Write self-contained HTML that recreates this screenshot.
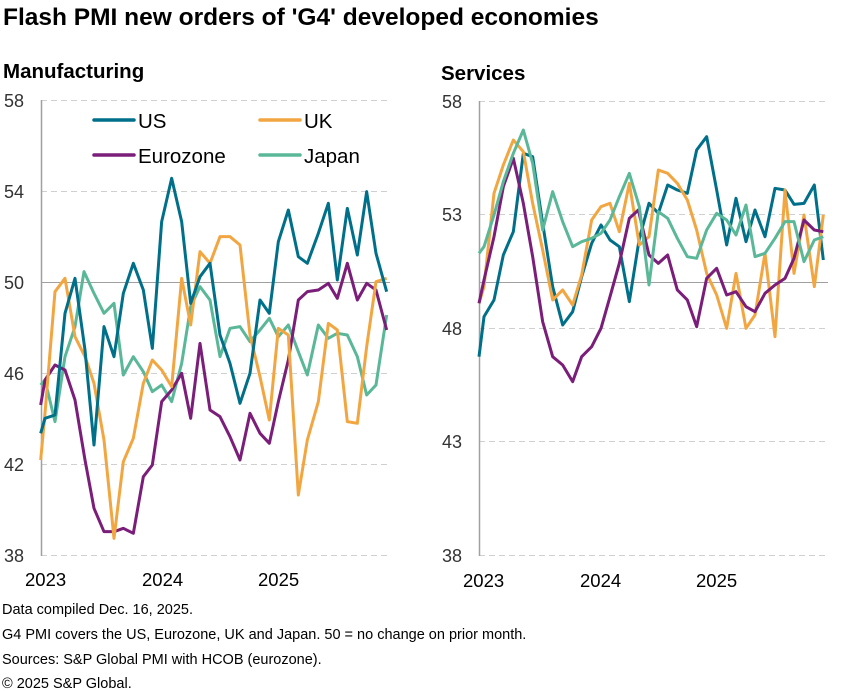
<!DOCTYPE html>
<html><head><meta charset="utf-8"><style>
body{margin:0;background:#fff;}
svg{display:block;font-family:"Liberation Sans",Arial,sans-serif;}
</style></head><body>
<svg width="847" height="691" viewBox="0 0 847 691" xmlns="http://www.w3.org/2000/svg">
<text x="3" y="25" font-size="24.5" font-weight="bold" fill="#000">Flash PMI new orders of 'G4' developed economies</text>
<text x="3" y="78" font-size="20.5" font-weight="bold">Manufacturing</text>
<text x="441" y="80" font-size="20.5" font-weight="bold">Services</text>
<g stroke="#d0d0d0" stroke-width="1" stroke-dasharray="6,4">
<line x1="41" x2="390" y1="100.5" y2="100.5"/><line x1="41" x2="390" y1="191.5" y2="191.5"/><line x1="41" x2="390" y1="373.5" y2="373.5"/><line x1="41" x2="390" y1="464.5" y2="464.5"/><line x1="41" x2="390" y1="555.5" y2="555.5"/>
<line x1="479" x2="828" y1="101.5" y2="101.5"/><line x1="479" x2="828" y1="214.5" y2="214.5"/><line x1="479" x2="828" y1="328.5" y2="328.5"/><line x1="479" x2="828" y1="441.5" y2="441.5"/><line x1="479" x2="828" y1="555.5" y2="555.5"/>
</g>
<line x1="41" x2="390" y1="282.5" y2="282.5" stroke="#a0a0a0"/>
<line x1="479" x2="828" y1="282.5" y2="282.5" stroke="#a0a0a0"/>
<line x1="41.5" x2="41.5" y1="100" y2="556" stroke="#a0a0a0" stroke-width="1.5"/>
<line x1="479.5" x2="479.5" y1="101" y2="556" stroke="#a0a0a0" stroke-width="1.5"/>
<g font-size="18" fill="#333">
<text x="4" y="107">58</text><text x="4" y="198">54</text><text x="4" y="289">50</text><text x="4" y="380">46</text><text x="4" y="471">42</text><text x="4" y="562">38</text>
<text x="442" y="108">58</text><text x="442" y="221">53</text><text x="442" y="335">48</text><text x="442" y="448">43</text><text x="442" y="562">38</text>
</g>
<g font-size="18.5" fill="#000">
<text x="25" y="586">2023</text><text x="142" y="586">2024</text><text x="258" y="586">2025</text>
<text x="463" y="587">2023</text><text x="580" y="587">2024</text><text x="696" y="587">2025</text>
</g>
<g stroke-width="3.5" stroke-linecap="round">
<line x1="94" x2="134" y1="120" y2="120" stroke="#006f89"/>
<line x1="260" x2="300" y1="120" y2="120" stroke="#f2a641"/>
<line x1="94" x2="134" y1="155" y2="155" stroke="#7b1e7a"/>
<line x1="260" x2="300" y1="155" y2="155" stroke="#5ab898"/>
</g>
<g font-size="20.5" fill="#000">
<text x="138" y="128">US</text><text x="304" y="128">UK</text>
<text x="138" y="163">Eurozone</text><text x="304" y="163">Japan</text>
</g>
<g transform="translate(0,90) scale(0.33333)" fill="none" stroke-width="9" stroke-linejoin="round">
<polyline stroke="#5ab898" points="122,885 135,870 165,995 195,800 225,710 252,545 282,610 312,670 342,640 370,855 400,800 430,845 457,905 485,885 515,935 545,820 572,650 600,590 630,630 660,800 690,715 720,710 750,755 780,720 808,685 835,740 865,705 895,785 922,855 955,705 985,745 1012,730 1042,735 1072,800 1100,915 1128,885 1160,675"/>
<polyline stroke="#7b1e7a" points="122,945 135,870 165,825 195,840 225,930 255,1110 282,1255 312,1325 342,1325 370,1315 400,1330 430,1160 457,1125 485,935 515,900 545,850 572,985 600,760 630,960 660,980 690,1040 720,1110 750,970 780,1030 808,1060 835,935 865,810 895,630 922,605 955,600 985,580 1012,625 1042,520 1072,630 1100,580 1128,600 1160,720"/>
<polyline stroke="#f2a641" points="122,1110 135,970 165,605 195,565 225,740 255,800 282,880 312,1050 342,1345 370,1115 400,1045 430,880 457,810 485,840 515,890 545,565 572,705 600,485 630,520 660,440 690,440 720,465 750,735 780,860 808,990 835,715 865,735 895,1215 922,1050 955,935 985,700 1012,720 1042,995 1072,1000 1100,770 1128,575 1160,565"/>
<polyline stroke="#006f89" points="122,1030 135,985 165,975 195,670 225,565 255,780 282,1065 312,710 342,800 370,610 400,520 430,600 457,775 485,395 515,265 545,395 572,640 600,560 630,520 660,735 690,820 720,940 750,850 780,630 808,670 835,455 865,360 895,500 922,520 955,430 985,340 1012,570 1042,355 1072,495 1100,305 1128,490 1160,605"/>
</g>
<g transform="translate(430,90) scale(0.33333)" fill="none" stroke-width="9" stroke-linejoin="round">
<polyline stroke="#006f89" points="147,800 162,680 192,630 220,495 250,425 280,190 308,200 338,400 368,590 398,705 428,665 455,560 485,460 513,405 540,450 568,470 598,635 628,445 657,340 685,370 713,285 742,300 772,310 800,180 830,140 860,300 890,465 918,325 948,455 975,360 1005,440 1035,295 1065,300 1092,343 1122,340 1153,285 1180,510"/>
<polyline stroke="#f2a641" points="147,640 162,590 192,310 220,225 250,150 280,185 308,340 338,480 368,630 398,600 428,645 455,555 485,390 513,350 540,340 568,425 598,280 628,465 657,440 685,240 713,250 742,280 772,330 800,420 830,550 860,615 890,715 918,550 948,715 975,675 1005,490 1035,740 1065,300 1092,550 1122,375 1153,590 1180,375"/>
<polyline stroke="#7b1e7a" points="147,640 162,570 192,440 220,290 250,205 280,340 308,500 338,695 368,800 398,825 428,875 455,800 485,770 513,715 540,620 568,520 598,385 625,360 657,495 685,520 713,495 742,600 772,630 800,710 830,565 860,535 890,615 918,605 948,650 975,665 1005,610 1035,585 1065,565 1092,505 1122,390 1153,420 1180,425"/>
<polyline stroke="#5ab898" points="147,490 162,470 192,375 220,275 250,190 280,120 308,220 338,420 368,305 398,395 428,470 455,455 485,445 513,430 540,390 568,320 598,250 628,350 657,585 685,365 713,385 742,445 772,500 800,505 830,420 860,370 890,390 918,435 948,345 975,500 1005,490 1035,445 1065,395 1092,395 1122,515 1153,450 1180,440"/>
</g>
<g font-size="14.5" fill="#000">
<text x="2" y="614">Data compiled Dec. 16, 2025.</text>
<text x="2" y="639">G4 PMI covers the US, Eurozone, UK and Japan. 50 = no change on prior month.</text>
<text x="2" y="664">Sources: S&amp;P Global PMI with HCOB (eurozone).</text>
<text x="2" y="688">© 2025 S&amp;P Global.</text>
</g>
</svg>
</body></html>
